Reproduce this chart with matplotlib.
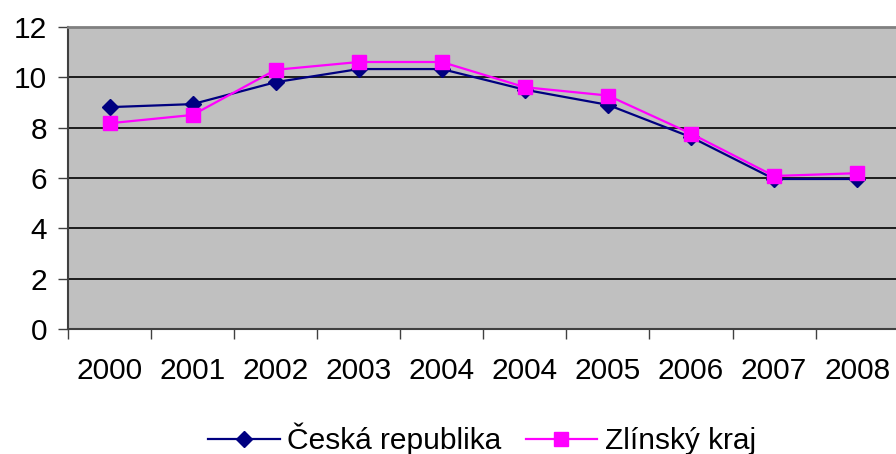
import matplotlib.pyplot as plt

years = ["2000", "2001", "2002", "2003", "2004", "2004", "2005", "2006", "2007", "2008"]
cr = [8.81, 8.93, 9.80, 10.32, 10.32, 9.50, 8.90, 7.62, 5.96, 5.96]
zlin = [8.17, 8.50, 10.29, 10.60, 10.60, 9.60, 9.27, 7.76, 6.08, 6.19]

plt.rcParams['font.family'] = ['Liberation Sans', 'DejaVu Sans']

fig = plt.figure(figsize=(8.96, 4.54), dpi=100)
ax = fig.add_axes([68 / 896, 1 - 329.3 / 454, 1 - 68 / 896 + 0.003, (329.3 - 26.7) / 454])
ax.set_facecolor("#C0C0C0")

x = range(len(years))
ax.plot(x, cr, color="#000080", lw=1.6, marker="D", ms=8.5, label="Česká republika")
ax.plot(x, zlin, color="#FF00FF", lw=1.6, marker="s", ms=9.5, label="Zlínský kraj")

ax.set_ylim(0, 12)
ax.set_yticks(range(0, 13, 2))
ax.yaxis.grid(True, color="black", lw=1.2)
ax.set_axisbelow(True)
ax.tick_params(axis="y", labelsize=21.5, length=7, width=1, pad=8, colors="#404040", labelcolor="black")

ax.set_xlim(-0.5, len(years) - 0.5)
ax.set_xticks([i - 0.5 for i in range(len(years) + 1)])
ax.set_xticklabels([])
ax.set_xticks(list(x), minor=True)
ax.set_xticklabels(years, minor=True)
ax.tick_params(axis="x", which="major", length=7, width=1, colors="#404040")
ax.tick_params(axis="x", which="minor", length=0, labelsize=21.5, pad=20)

for s in ["left", "bottom"]:
    ax.spines[s].set_color("#404040")
    ax.spines[s].set_linewidth(1.5)
ax.spines["top"].set_color("#808080")
ax.spines["top"].set_linewidth(2)
ax.spines["right"].set_visible(False)

fig.legend(loc="center", bbox_to_anchor=(482 / 896, 1 - 439 / 454), ncol=2, frameon=False,
           fontsize=21.5, handlelength=2.4, handletextpad=0.25, columnspacing=0.8)

fig.savefig("out.png", dpi=100)
